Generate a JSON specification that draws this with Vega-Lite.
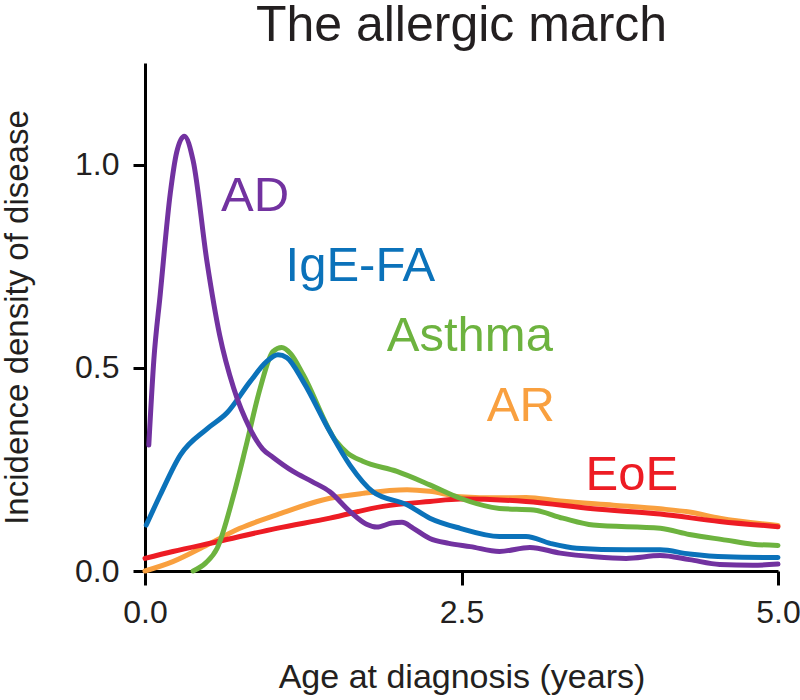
{
  "$schema": "https://vega.github.io/schema/vega-lite/v6.json",
  "width": 633,
  "height": 508,
  "autosize": "none",
  "padding": {"left": 145, "top": 63, "right": 22, "bottom": 129},
  "background": "white",
  "title": {"text": "The allergic march", "fontSize": 50, "font": "Liberation Sans", "fontWeight": "normal", "color": "#231f20", "anchor": "middle", "offset": 12},
  "config": {"view": {"stroke": null}, "font": "Liberation Sans"},
  "datasets": {
    "curves": [
      {"disease": "AR", "age": 0.0, "density": 0.0},
      {"disease": "AR", "age": 0.22, "density": 0.023},
      {"disease": "AR", "age": 0.49, "density": 0.064},
      {"disease": "AR", "age": 0.75, "density": 0.105},
      {"disease": "AR", "age": 1.04, "density": 0.138},
      {"disease": "AR", "age": 1.46, "density": 0.179},
      {"disease": "AR", "age": 1.72, "density": 0.191},
      {"disease": "AR", "age": 2.07, "density": 0.2},
      {"disease": "AR", "age": 2.25, "density": 0.196},
      {"disease": "AR", "age": 2.49, "density": 0.183},
      {"disease": "AR", "age": 2.8, "density": 0.18},
      {"disease": "AR", "age": 3.01, "density": 0.181},
      {"disease": "AR", "age": 3.28, "density": 0.172},
      {"disease": "AR", "age": 3.7, "density": 0.162},
      {"disease": "AR", "age": 4.07, "density": 0.153},
      {"disease": "AR", "age": 4.3, "density": 0.145},
      {"disease": "AR", "age": 4.54, "density": 0.13},
      {"disease": "AR", "age": 5.0, "density": 0.112},
      {"disease": "EoE", "age": 0.0, "density": 0.031},
      {"disease": "EoE", "age": 0.22, "density": 0.048},
      {"disease": "EoE", "age": 0.57, "density": 0.072},
      {"disease": "EoE", "age": 1.04, "density": 0.105},
      {"disease": "EoE", "age": 1.46, "density": 0.13},
      {"disease": "EoE", "age": 1.88, "density": 0.159},
      {"disease": "EoE", "age": 2.25, "density": 0.171},
      {"disease": "EoE", "age": 2.49, "density": 0.177},
      {"disease": "EoE", "age": 3.01, "density": 0.171},
      {"disease": "EoE", "age": 3.54, "density": 0.153},
      {"disease": "EoE", "age": 4.07, "density": 0.14},
      {"disease": "EoE", "age": 4.54, "density": 0.122},
      {"disease": "EoE", "age": 5.0, "density": 0.109},
      {"disease": "Asthma", "age": 0.38, "density": 0.0},
      {"disease": "Asthma", "age": 0.48, "density": 0.02},
      {"disease": "Asthma", "age": 0.57, "density": 0.056},
      {"disease": "Asthma", "age": 0.7, "density": 0.187},
      {"disease": "Asthma", "age": 0.8, "density": 0.31},
      {"disease": "Asthma", "age": 0.91, "density": 0.45},
      {"disease": "Asthma", "age": 1.01, "density": 0.54},
      {"disease": "Asthma", "age": 1.08, "density": 0.55},
      {"disease": "Asthma", "age": 1.15, "density": 0.535},
      {"disease": "Asthma", "age": 1.25, "density": 0.483},
      {"disease": "Asthma", "age": 1.51, "density": 0.319},
      {"disease": "Asthma", "age": 1.6, "density": 0.29},
      {"disease": "Asthma", "age": 1.72, "density": 0.27},
      {"disease": "Asthma", "age": 1.99, "density": 0.245},
      {"disease": "Asthma", "age": 2.25, "density": 0.212},
      {"disease": "Asthma", "age": 2.49, "density": 0.179},
      {"disease": "Asthma", "age": 2.8, "density": 0.154},
      {"disease": "Asthma", "age": 3.07, "density": 0.15},
      {"disease": "Asthma", "age": 3.3, "density": 0.13},
      {"disease": "Asthma", "age": 3.54, "density": 0.113},
      {"disease": "Asthma", "age": 4.07, "density": 0.105},
      {"disease": "Asthma", "age": 4.3, "density": 0.09},
      {"disease": "Asthma", "age": 4.59, "density": 0.076},
      {"disease": "Asthma", "age": 4.8, "density": 0.066},
      {"disease": "Asthma", "age": 5.0, "density": 0.063},
      {"disease": "IgE-FA", "age": 0.01, "density": 0.113},
      {"disease": "IgE-FA", "age": 0.12, "density": 0.187},
      {"disease": "IgE-FA", "age": 0.28, "density": 0.286},
      {"disease": "IgE-FA", "age": 0.49, "density": 0.35},
      {"disease": "IgE-FA", "age": 0.65, "density": 0.39},
      {"disease": "IgE-FA", "age": 0.83, "density": 0.466},
      {"disease": "IgE-FA", "age": 0.96, "density": 0.515},
      {"disease": "IgE-FA", "age": 1.05, "density": 0.532},
      {"disease": "IgE-FA", "age": 1.12, "density": 0.525},
      {"disease": "IgE-FA", "age": 1.25, "density": 0.466},
      {"disease": "IgE-FA", "age": 1.46, "density": 0.343},
      {"disease": "IgE-FA", "age": 1.62, "density": 0.26},
      {"disease": "IgE-FA", "age": 1.8, "density": 0.195},
      {"disease": "IgE-FA", "age": 2.07, "density": 0.163},
      {"disease": "IgE-FA", "age": 2.25, "density": 0.13},
      {"disease": "IgE-FA", "age": 2.49, "density": 0.105},
      {"disease": "IgE-FA", "age": 2.8, "density": 0.085},
      {"disease": "IgE-FA", "age": 3.01, "density": 0.085},
      {"disease": "IgE-FA", "age": 3.2, "density": 0.068},
      {"disease": "IgE-FA", "age": 3.41, "density": 0.056},
      {"disease": "IgE-FA", "age": 3.8, "density": 0.052},
      {"disease": "IgE-FA", "age": 4.07, "density": 0.052},
      {"disease": "IgE-FA", "age": 4.3, "density": 0.042},
      {"disease": "IgE-FA", "age": 4.59, "density": 0.035},
      {"disease": "IgE-FA", "age": 5.0, "density": 0.033},
      {"disease": "AD", "age": 0.03, "density": 0.31},
      {"disease": "AD", "age": 0.07, "density": 0.52},
      {"disease": "AD", "age": 0.12, "density": 0.68},
      {"disease": "AD", "age": 0.2, "density": 0.93},
      {"disease": "AD", "age": 0.25, "density": 1.03},
      {"disease": "AD", "age": 0.31, "density": 1.07},
      {"disease": "AD", "age": 0.38, "density": 1.01},
      {"disease": "AD", "age": 0.49, "density": 0.76},
      {"disease": "AD", "age": 0.59, "density": 0.58},
      {"disease": "AD", "age": 0.7, "density": 0.45},
      {"disease": "AD", "age": 0.83, "density": 0.35},
      {"disease": "AD", "age": 0.93, "density": 0.3},
      {"disease": "AD", "age": 1.01, "density": 0.28},
      {"disease": "AD", "age": 1.17, "density": 0.245},
      {"disease": "AD", "age": 1.32, "density": 0.22},
      {"disease": "AD", "age": 1.46, "density": 0.195},
      {"disease": "AD", "age": 1.62, "density": 0.146},
      {"disease": "AD", "age": 1.75, "density": 0.115},
      {"disease": "AD", "age": 1.83, "density": 0.108},
      {"disease": "AD", "age": 1.95, "density": 0.118},
      {"disease": "AD", "age": 2.03, "density": 0.12},
      {"disease": "AD", "age": 2.12, "density": 0.105},
      {"disease": "AD", "age": 2.25, "density": 0.08},
      {"disease": "AD", "age": 2.4, "density": 0.068},
      {"disease": "AD", "age": 2.57, "density": 0.06},
      {"disease": "AD", "age": 2.8, "density": 0.048},
      {"disease": "AD", "age": 3.04, "density": 0.058},
      {"disease": "AD", "age": 3.28, "density": 0.044},
      {"disease": "AD", "age": 3.55, "density": 0.035},
      {"disease": "AD", "age": 3.8, "density": 0.031},
      {"disease": "AD", "age": 4.07, "density": 0.038},
      {"disease": "AD", "age": 4.3, "density": 0.028},
      {"disease": "AD", "age": 4.54, "density": 0.016},
      {"disease": "AD", "age": 4.8, "density": 0.014},
      {"disease": "AD", "age": 5.0, "density": 0.017}
    ],
    "labels": [
      {"disease": "AD", "age": 0.6, "density": 0.885},
      {"disease": "IgE-FA", "age": 1.11, "density": 0.713},
      {"disease": "Asthma", "age": 1.91, "density": 0.542},
      {"disease": "AR", "age": 2.7, "density": 0.368},
      {"disease": "EoE", "age": 3.48, "density": 0.2}
    ]
  },
  "encoding": {
    "x": {"field": "age", "type": "quantitative",
      "scale": {"domain": [0, 5], "nice": false, "zero": false},
      "axis": {"title": "Age at diagnosis (years)", "values": [0, 2.5, 5], "format": ".1f",
        "grid": false, "domainColor": "#000000", "domainWidth": 3, "tickColor": "#000000", "tickWidth": 3, "tickSize": 14,
        "labelFontSize": 32, "labelColor": "#231f20", "labelPadding": 12, "labelFont": "Liberation Sans", "labelFlush": false,
        "titleFontSize": 34, "titleFont": "Liberation Sans", "titleFontWeight": "normal", "titleColor": "#231f20", "titlePadding": 32}},
    "y": {"field": "density", "type": "quantitative",
      "scale": {"domain": [0, 1.25], "nice": false},
      "axis": {"title": "Incidence density of disease", "values": [0, 0.5, 1], "format": ".1f",
        "grid": false, "domainColor": "#000000", "domainWidth": 3, "tickColor": "#000000", "tickWidth": 3, "tickSize": 12,
        "labelFontSize": 32, "labelColor": "#231f20", "labelPadding": 14, "labelFont": "Liberation Sans", "labelFlush": false,
        "titleFontSize": 33, "titleFont": "Liberation Sans", "titleFontWeight": "normal", "titleColor": "#231f20", "titlePadding": 40}},
    "color": {"field": "disease", "type": "nominal",
      "scale": {"domain": ["AR", "EoE", "Asthma", "IgE-FA", "AD"], "range": ["#f9a03f", "#ed1c24", "#6db33f", "#0b72ba", "#7232a0"]},
      "legend": null}
  },
  "layer": [
    {"data": {"name": "curves"}, "mark": {"type": "line", "interpolate": "monotone", "strokeWidth": 5, "strokeCap": "round"}},
    {"data": {"name": "labels"}, "mark": {"type": "text", "align": "left", "baseline": "alphabetic", "fontSize": 49, "font": "Liberation Sans"},
      "encoding": {"text": {"field": "disease"}}}
  ]
}
